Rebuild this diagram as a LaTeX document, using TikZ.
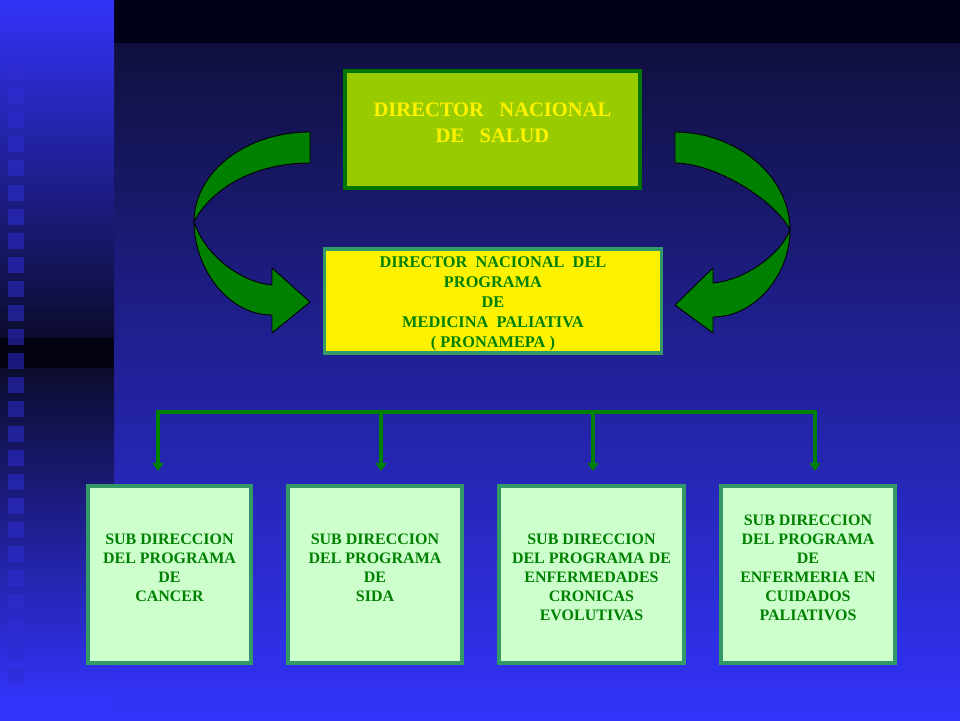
\documentclass[tikz,border=0pt]{standalone}
\usepackage{fontspec}
\setmainfont{Liberation Serif}
\usetikzlibrary{arrows.meta}

\definecolor{bgtop}{RGB}{16,16,62}
\definecolor{bgmid}{RGB}{36,36,172}
\definecolor{bgbot}{RGB}{51,51,250}
\definecolor{bandtop}{RGB}{0,0,22}
\definecolor{stripdark}{RGB}{12,12,46}
\definecolor{stripband}{RGB}{2,2,18}
\definecolor{squarecol}{RGB}{45,45,210}
\definecolor{leafgreen}{RGB}{153,204,0}
\definecolor{darkline}{RGB}{0,118,0}
\definecolor{tealline}{RGB}{51,153,102}
\definecolor{palegreen}{RGB}{204,255,204}
\definecolor{txtgreen}{RGB}{0,128,0}
\definecolor{ribbon}{RGB}{0,128,0}

\begin{document}
\begin{tikzpicture}[x=0.02cm, y=-0.02cm,
  topbox/.style={draw=darkline, fill=leafgreen, line width=2.2pt,
    minimum width=5.9cm, minimum height=2.34cm},
  midbox/.style={draw=tealline, fill=yellow, line width=2pt,
    minimum width=6.74cm, minimum height=2.09cm},
  subbox/.style={draw=tealline, fill=palegreen, line width=2pt,
    minimum height=3.55cm},
  toptxt/.style={text=yellow, align=center, inner sep=0pt,
    font=\bfseries\fontsize{11.7}{14.7}\selectfont},
  midtxt/.style={text=txtgreen, align=center, inner sep=0pt,
    font=\bfseries\fontsize{9.3}{11.3}\selectfont},
  subtxt/.style={text=txtgreen, align=center, inner sep=0pt,
    font=\bfseries\fontsize{9.1}{10.8}\selectfont},
  ribbonarrow/.style={fill=ribbon, draw=black, line width=0.5pt, line join=round},
  bus/.style={draw=txtgreen, line width=2pt,
    {Triangle[width=6pt,length=4.5pt]}-{Triangle[width=6pt,length=4.5pt]}},
  drop/.style={draw=txtgreen, line width=2pt, -{Triangle[width=6pt,length=4.5pt]}}
]
  % Background
  \useasboundingbox (0,0) rectangle (960,720);
  \shade[top color=bgtop, middle color=bgmid, bottom color=bgbot]
    (112,43) rectangle (962,722);
  \fill[bandtop] (112,-2) rectangle (962,43);
  \shade[top color=bgbot, bottom color=stripdark] (-2,-2) rectangle (114,338);
  \fill[stripband] (-2,338) rectangle (114,368);
  \shade[top color=stripdark, bottom color=bgbot] (-2,368) rectangle (114,700);
  \fill[bgbot] (-2,699) rectangle (114,722);
  \foreach \k in {0,...,25}
    \fill[squarecol, opacity=0.55] (8,64+24.1*\k) rectangle (24,80+24.1*\k);

  % Boxes
  \node[topbox] (salud) at (492.5,129.5) {};
  \node[midbox] (pronamepa) at (493,301) {};
  \node[subbox, minimum width=3.27cm] (cancer) at (169.5,574.5) {};
  \node[subbox, minimum width=3.49cm] (sida) at (375,574.5) {};
  \node[subbox, minimum width=3.71cm] (cronicas) at (591.5,574.5) {};
  \node[subbox, minimum width=3.49cm] (enfermeria) at (808,574.5) {};

  % Texts
  \node[toptxt, yshift=3.7pt] (saludtxt) at (salud)
    {DIRECTOR\ \ \ NACIONAL\\DE\ \ \ SALUD};
  \node[midtxt, yshift=-1.7pt] (pronamepatxt) at (pronamepa)
    {DIRECTOR\ \ NACIONAL\ \ DEL\\PROGRAMA\\DE\\MEDICINA\ \ PALIATIVA\\( PRONAMEPA )};
  \node[subtxt, yshift=4pt] (cancertxt) at (cancer)
    {SUB DIRECCION\\DEL PROGRAMA\\DE\\CANCER};
  \node[subtxt, yshift=4pt] (sidatxt) at (sida)
    {SUB DIRECCION\\DEL PROGRAMA\\DE\\SIDA};
  \node[subtxt, yshift=-1.7pt] (cronicastxt) at (cronicas)
    {SUB DIRECCION\\DEL PROGRAMA DE\\ENFERMEDADES\\CRONICAS\\EVOLUTIVAS};
  \node[subtxt, yshift=4pt] (enfermeriatxt) at (enfermeria)
    {SUB DIRECCION\\DEL PROGRAMA\\DE\\ENFERMERIA EN\\CUIDADOS\\PALIATIVOS};

  % Curved arrows
  \filldraw[ribbonarrow] (310,132) .. controls (246,132) and (194,172) .. (194,222)
    .. controls (209,192) and (250,163) .. (310,163) -- cycle;
  \filldraw[ribbonarrow] (194,222) .. controls (194,267) and (227,315) .. (272,315)
    -- (272,333) -- (310,302) -- (272,268) -- (272,285)
    .. controls (240,282) and (205,255) .. (194,222) -- cycle;

  \filldraw[ribbonarrow] (675,132) .. controls (735,132) and (790,175) .. (790,230)
    .. controls (775,200) and (715,163) .. (675,163) -- cycle;
  \filldraw[ribbonarrow] (790,230) .. controls (790,275) and (755,317) .. (713,317)
    -- (713,333) -- (675,305) -- (713,268) -- (713,283)
    .. controls (745,280) and (780,255) .. (790,230) -- cycle;

  % Branch lines
  \coordinate (b1) at (158,412);
  \coordinate (b2) at (381,412);
  \coordinate (b3) at (593,412);
  \coordinate (b4) at (815,412);
  \coordinate (d1) at (158,471);
  \coordinate (d2) at (381,471);
  \coordinate (d3) at (593,471);
  \coordinate (d4) at (815,471);
  \draw[bus] (d1) -- (b1) -- (b4) -- (d4);
  \draw[drop] (b2) -- (d2);
  \draw[drop] (b3) -- (d3);
\end{tikzpicture}
\end{document}
